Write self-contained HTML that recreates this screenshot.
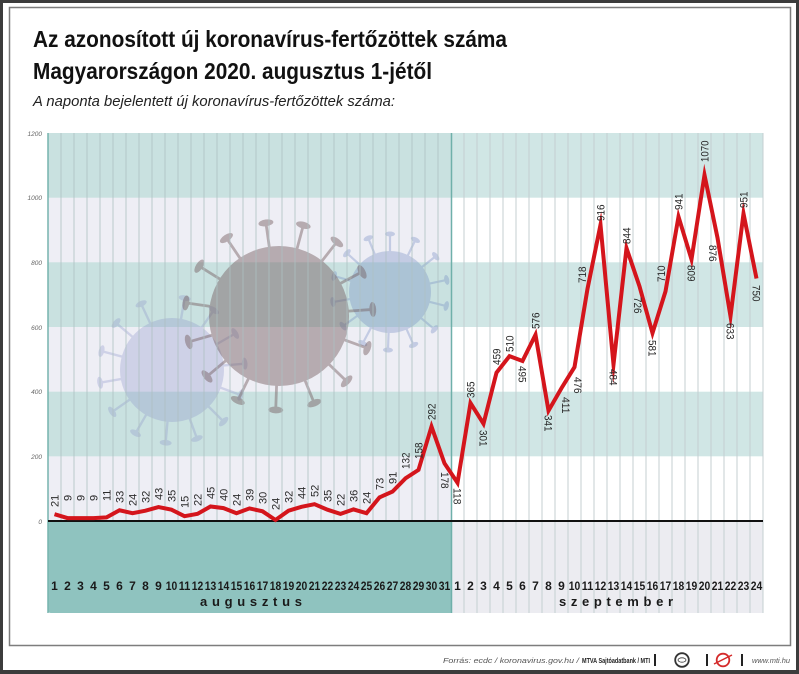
<!DOCTYPE html>
<html><head><meta charset="utf-8"><style>
html,body{margin:0;padding:0;background:#fff;}
svg{display:block;}
text{font-family:"Liberation Sans",sans-serif;}
</style></head><body>
<svg width="799" height="674" viewBox="0 0 799 674" xmlns="http://www.w3.org/2000/svg">
<defs>
<g id="spB"><rect x="-1.4" y="-94" width="2.8" height="30"/><ellipse cx="0" cy="-94" rx="7.5" ry="3.4"/></g>
<g id="spL"><rect x="-1.2" y="-73" width="2.4" height="24"/><ellipse cx="0" cy="-73" rx="6" ry="2.8"/></g>
<g id="spR"><rect x="-1.1" y="-58" width="2.2" height="20"/><ellipse cx="0" cy="-58" rx="5" ry="2.5"/></g>
</defs>
<rect x="0" y="0" width="799" height="674" fill="#3c3c3c"/>
<rect x="3" y="3" width="793" height="667" fill="#ffffff"/>
<rect x="9.5" y="7.5" width="781" height="638" fill="#fff" stroke="#7d7d7d" stroke-width="1.5"/>

<text x="33" y="47" font-size="23" font-weight="bold" fill="#111" textLength="474" lengthAdjust="spacingAndGlyphs">Az azonosított új koronavírus-fertőzöttek száma</text>
<text x="33" y="79" font-size="23" font-weight="bold" fill="#111" textLength="399" lengthAdjust="spacingAndGlyphs">Magyarországon 2020. augusztus 1-jétől</text>
<text x="33" y="106" font-size="15" font-style="italic" fill="#222" textLength="362" lengthAdjust="spacingAndGlyphs">A naponta bejelentett új koronavírus-fertőzöttek száma:</text>

<rect x="48" y="133" width="403" height="388" fill="#eeeef5"/>
<rect x="48" y="133" width="403" height="64.7" fill="#c9e1e0"/>
<rect x="48" y="262.3" width="403" height="64.7" fill="#c9e1e0"/>
<rect x="48" y="391.7" width="403" height="64.6" fill="#c9e1e0"/>
<rect x="451" y="133" width="312" height="388" fill="#ffffff"/>
<rect x="451" y="133" width="312" height="64.7" fill="#d0e6e5"/>
<rect x="451" y="262.3" width="312" height="64.7" fill="#d0e6e5"/>
<rect x="451" y="391.7" width="312" height="64.6" fill="#d0e6e5"/>
<rect x="451" y="521" width="312" height="92" fill="#ececf1"/>

<g opacity="0.36" fill="#7890c4">
<circle cx="390" cy="292" r="41"/>
<g transform="translate(390,292)">
<use href="#spR" transform="rotate(0)"/><use href="#spR" transform="rotate(26)"/><use href="#spR" transform="rotate(52)"/><use href="#spR" transform="rotate(78)"/><use href="#spR" transform="rotate(104)"/><use href="#spR" transform="rotate(130)"/><use href="#spR" transform="rotate(156)"/><use href="#spR" transform="rotate(182)"/><use href="#spR" transform="rotate(208)"/><use href="#spR" transform="rotate(234)"/><use href="#spR" transform="rotate(260)"/><use href="#spR" transform="rotate(286)"/><use href="#spR" transform="rotate(312)"/><use href="#spR" transform="rotate(338)"/>
</g></g>
<g opacity="0.3" fill="#8890c8">
<circle cx="172" cy="370" r="52"/>
<g transform="translate(172,370)">
<use href="#spL" transform="rotate(10)"/><use href="#spL" transform="rotate(35)"/><use href="#spL" transform="rotate(60)"/><use href="#spL" transform="rotate(85)"/><use href="#spL" transform="rotate(110)"/><use href="#spL" transform="rotate(135)"/><use href="#spL" transform="rotate(160)"/><use href="#spL" transform="rotate(185)"/><use href="#spL" transform="rotate(210)"/><use href="#spL" transform="rotate(235)"/><use href="#spL" transform="rotate(260)"/><use href="#spL" transform="rotate(285)"/><use href="#spL" transform="rotate(310)"/><use href="#spL" transform="rotate(335)"/>
</g></g>
<g opacity="0.45" fill="#735c5e">
<circle cx="279" cy="316" r="70"/>
<g transform="translate(279,316)">
<use href="#spB" transform="rotate(-8)"/><use href="#spB" transform="rotate(15)"/><use href="#spB" transform="rotate(38)"/><use href="#spB" transform="rotate(62)"/><use href="#spB" transform="rotate(86)"/><use href="#spB" transform="rotate(110)"/><use href="#spB" transform="rotate(134)"/><use href="#spB" transform="rotate(158)"/><use href="#spB" transform="rotate(182)"/><use href="#spB" transform="rotate(206)"/><use href="#spB" transform="rotate(230)"/><use href="#spB" transform="rotate(254)"/><use href="#spB" transform="rotate(278)"/><use href="#spB" transform="rotate(302)"/><use href="#spB" transform="rotate(326)"/>
</g></g>

<path d="M61 133V521M74 133V521M87 133V521M100 133V521M113 133V521M126 133V521M139 133V521M152 133V521M165 133V521M178 133V521M191 133V521M204 133V521M217 133V521M230 133V521M243 133V521M256 133V521M269 133V521M282 133V521M295 133V521M308 133V521M321 133V521M334 133V521M347 133V521M360 133V521M373 133V521M386 133V521M399 133V521M412 133V521M425 133V521M438 133V521" stroke="#aebfc2" stroke-width="1" opacity="0.8" fill="none"/>
<path d="M464 133V613M477 133V613M490 133V613M503 133V613M516 133V613M529 133V613M542 133V613M555 133V613M568 133V613M581 133V613M594 133V613M607 133V613M620 133V613M633 133V613M646 133V613M659 133V613M672 133V613M685 133V613M698 133V613M711 133V613M724 133V613M737 133V613M750 133V613M763 133V613" stroke="#c4cfd1" stroke-width="1" fill="none"/>

<path d="M48 521H451V613H51Q48 613 48 610Z" fill="#8fc3bf"/>
<line x1="48" y1="133" x2="48" y2="613" stroke="#76b4ae" stroke-width="1.5"/>
<line x1="451.5" y1="133" x2="451.5" y2="613" stroke="#6fb0aa" stroke-width="1.5"/>
<line x1="48" y1="521" x2="763" y2="521" stroke="#111" stroke-width="2"/>

<g font-size="6.5" font-style="italic" fill="#666" text-anchor="end">
<text x="42" y="136">1200</text>
<text x="42" y="200">1000</text>
<text x="42" y="265">800</text>
<text x="42" y="330">600</text>
<text x="42" y="394">400</text>
<text x="42" y="459">200</text>
<text x="42" y="524">0</text>
</g>

<polyline fill="none" stroke="#d4151c" stroke-width="4" stroke-linejoin="miter" stroke-miterlimit="10" points="54.5,514.2 67.5,518.1 80.5,518.1 93.5,518.1 106.5,517.4 119.5,510.3 132.5,513.2 145.5,510.7 158.5,507.1 171.5,509.7 184.5,516.2 197.5,513.9 210.5,506.5 223.5,508.1 236.5,513.2 249.5,508.4 262.5,511.3 275.5,520 288.5,510.7 301.5,506.8 314.5,504.2 327.5,509.7 340.5,513.9 353.5,509.4 366.5,513.2 379.5,497.4 392.5,491.6 405.5,478.3 418.5,469.9 431.5,426.6 444.5,463.4 457.5,482.8 470.5,403 483.5,423.7 496.5,372.6 509.5,356.1 522.5,361 535.5,334.8 548.5,410.7 561.5,388.1 574.5,367.1 587.5,288.8 600.5,224.8 613.5,364.5 626.5,248.1 639.5,286.3 652.5,333.1 665.5,291.4 678.5,216.7 691.5,259.4 704.5,175 717.5,237.8 730.5,316.3 743.5,213.5 756.5,278.5"/>

<g font-size="11" fill="#2a2a2a">
<text transform="translate(58.3,507) rotate(-90)">21</text>
<text transform="translate(71.3,501) rotate(-90)">9</text>
<text transform="translate(84.3,501) rotate(-90)">9</text>
<text transform="translate(97.3,501) rotate(-90)">9</text>
<text transform="translate(110.3,501) rotate(-90)">11</text>
<text transform="translate(123.3,503) rotate(-90)">33</text>
<text transform="translate(136.3,506) rotate(-90)">24</text>
<text transform="translate(149.3,503) rotate(-90)">32</text>
<text transform="translate(162.3,500) rotate(-90)">43</text>
<text transform="translate(175.3,502) rotate(-90)">35</text>
<text transform="translate(188.3,508) rotate(-90)">15</text>
<text transform="translate(201.3,506) rotate(-90)">22</text>
<text transform="translate(214.3,499) rotate(-90)">45</text>
<text transform="translate(227.3,501) rotate(-90)">40</text>
<text transform="translate(240.3,506) rotate(-90)">24</text>
<text transform="translate(253.3,501) rotate(-90)">39</text>
<text transform="translate(266.3,504) rotate(-90)">30</text>
<text transform="translate(279.3,510) rotate(-90)">24</text>
<text transform="translate(292.3,503) rotate(-90)">32</text>
<text transform="translate(305.3,499) rotate(-90)">44</text>
<text transform="translate(318.3,497) rotate(-90)">52</text>
<text transform="translate(331.3,502) rotate(-90)">35</text>
<text transform="translate(344.3,506) rotate(-90)">22</text>
<text transform="translate(357.3,502) rotate(-90)">36</text>
<text transform="translate(370.3,504) rotate(-90)">24</text>
<text transform="translate(383.3,490) rotate(-90)">73</text>
<text transform="translate(396.3,484) rotate(-90)">91</text>
<text transform="translate(409.3,469) rotate(-90)" textLength="16.5" lengthAdjust="spacingAndGlyphs">132</text>
<text transform="translate(422.3,459) rotate(-90)" textLength="16.5" lengthAdjust="spacingAndGlyphs">158</text>
<text transform="translate(435.3,420) rotate(-90)" textLength="16.5" lengthAdjust="spacingAndGlyphs">292</text>
<text transform="translate(474.3,398) rotate(-90)" textLength="16.5" lengthAdjust="spacingAndGlyphs">365</text>
<text transform="translate(500.3,365) rotate(-90)" textLength="16.5" lengthAdjust="spacingAndGlyphs">459</text>
<text transform="translate(513.3,352) rotate(-90)" textLength="16.5" lengthAdjust="spacingAndGlyphs">510</text>
<text transform="translate(539.3,329) rotate(-90)" textLength="16.5" lengthAdjust="spacingAndGlyphs">576</text>
<text transform="translate(585.8,283) rotate(-90)" textLength="16.5" lengthAdjust="spacingAndGlyphs">718</text>
<text transform="translate(604.3,221) rotate(-90)" textLength="16.5" lengthAdjust="spacingAndGlyphs">916</text>
<text transform="translate(630.3,244) rotate(-90)" textLength="16.5" lengthAdjust="spacingAndGlyphs">844</text>
<text transform="translate(664.8,282) rotate(-90)" textLength="16.5" lengthAdjust="spacingAndGlyphs">710</text>
<text transform="translate(682.3,210) rotate(-90)" textLength="16.5" lengthAdjust="spacingAndGlyphs">941</text>
<text transform="translate(708.3,162) rotate(-90)" textLength="21.5" lengthAdjust="spacingAndGlyphs">1070</text>
<text transform="translate(747.3,208) rotate(-90)" textLength="16.5" lengthAdjust="spacingAndGlyphs">951</text>
<text transform="translate(441,472) rotate(90)" textLength="16.5" lengthAdjust="spacingAndGlyphs">178</text>
<text transform="translate(453.7,488) rotate(90)" textLength="16.5" lengthAdjust="spacingAndGlyphs">118</text>
<text transform="translate(479.7,430) rotate(90)" textLength="16.5" lengthAdjust="spacingAndGlyphs">301</text>
<text transform="translate(518.7,366) rotate(90)" textLength="16.5" lengthAdjust="spacingAndGlyphs">495</text>
<text transform="translate(544.7,415) rotate(90)" textLength="16.5" lengthAdjust="spacingAndGlyphs">341</text>
<text transform="translate(562.2,397) rotate(90)" textLength="16.5" lengthAdjust="spacingAndGlyphs">411</text>
<text transform="translate(574.2,377) rotate(90)" textLength="16.5" lengthAdjust="spacingAndGlyphs">476</text>
<text transform="translate(609.7,369) rotate(90)" textLength="16.5" lengthAdjust="spacingAndGlyphs">484</text>
<text transform="translate(634.2,297) rotate(90)" textLength="16.5" lengthAdjust="spacingAndGlyphs">726</text>
<text transform="translate(648.7,340) rotate(90)" textLength="16.5" lengthAdjust="spacingAndGlyphs">581</text>
<text transform="translate(687.7,265) rotate(90)" textLength="16.5" lengthAdjust="spacingAndGlyphs">809</text>
<text transform="translate(709.2,245) rotate(90)" textLength="16.5" lengthAdjust="spacingAndGlyphs">876</text>
<text transform="translate(726.7,323) rotate(90)" textLength="16.5" lengthAdjust="spacingAndGlyphs">633</text>
<text transform="translate(752.7,285) rotate(90)" textLength="16.5" lengthAdjust="spacingAndGlyphs">750</text>
</g>

<g font-size="12" font-weight="bold" fill="#1a1a1a" text-anchor="middle">
<text x="54.5" y="590">1</text><text x="67.5" y="590">2</text><text x="80.5" y="590">3</text><text x="93.5" y="590">4</text><text x="106.5" y="590">5</text><text x="119.5" y="590">6</text><text x="132.5" y="590">7</text><text x="145.5" y="590">8</text><text x="158.5" y="590">9</text>
<text x="171.5" y="590" textLength="11.5" lengthAdjust="spacingAndGlyphs">10</text><text x="184.5" y="590" textLength="11.5" lengthAdjust="spacingAndGlyphs">11</text><text x="197.5" y="590" textLength="11.5" lengthAdjust="spacingAndGlyphs">12</text><text x="210.5" y="590" textLength="11.5" lengthAdjust="spacingAndGlyphs">13</text><text x="223.5" y="590" textLength="11.5" lengthAdjust="spacingAndGlyphs">14</text><text x="236.5" y="590" textLength="11.5" lengthAdjust="spacingAndGlyphs">15</text><text x="249.5" y="590" textLength="11.5" lengthAdjust="spacingAndGlyphs">16</text><text x="262.5" y="590" textLength="11.5" lengthAdjust="spacingAndGlyphs">17</text><text x="275.5" y="590" textLength="11.5" lengthAdjust="spacingAndGlyphs">18</text><text x="288.5" y="590" textLength="11.5" lengthAdjust="spacingAndGlyphs">19</text><text x="301.5" y="590" textLength="11.5" lengthAdjust="spacingAndGlyphs">20</text><text x="314.5" y="590" textLength="11.5" lengthAdjust="spacingAndGlyphs">21</text><text x="327.5" y="590" textLength="11.5" lengthAdjust="spacingAndGlyphs">22</text><text x="340.5" y="590" textLength="11.5" lengthAdjust="spacingAndGlyphs">23</text><text x="353.5" y="590" textLength="11.5" lengthAdjust="spacingAndGlyphs">24</text><text x="366.5" y="590" textLength="11.5" lengthAdjust="spacingAndGlyphs">25</text><text x="379.5" y="590" textLength="11.5" lengthAdjust="spacingAndGlyphs">26</text><text x="392.5" y="590" textLength="11.5" lengthAdjust="spacingAndGlyphs">27</text><text x="405.5" y="590" textLength="11.5" lengthAdjust="spacingAndGlyphs">28</text><text x="418.5" y="590" textLength="11.5" lengthAdjust="spacingAndGlyphs">29</text><text x="431.5" y="590" textLength="11.5" lengthAdjust="spacingAndGlyphs">30</text><text x="444.5" y="590" textLength="11.5" lengthAdjust="spacingAndGlyphs">31</text>
<text x="457.5" y="590">1</text><text x="470.5" y="590">2</text><text x="483.5" y="590">3</text><text x="496.5" y="590">4</text><text x="509.5" y="590">5</text><text x="522.5" y="590">6</text><text x="535.5" y="590">7</text><text x="548.5" y="590">8</text><text x="561.5" y="590">9</text>
<text x="574.5" y="590" textLength="11.5" lengthAdjust="spacingAndGlyphs">10</text><text x="587.5" y="590" textLength="11.5" lengthAdjust="spacingAndGlyphs">11</text><text x="600.5" y="590" textLength="11.5" lengthAdjust="spacingAndGlyphs">12</text><text x="613.5" y="590" textLength="11.5" lengthAdjust="spacingAndGlyphs">13</text><text x="626.5" y="590" textLength="11.5" lengthAdjust="spacingAndGlyphs">14</text><text x="639.5" y="590" textLength="11.5" lengthAdjust="spacingAndGlyphs">15</text><text x="652.5" y="590" textLength="11.5" lengthAdjust="spacingAndGlyphs">16</text><text x="665.5" y="590" textLength="11.5" lengthAdjust="spacingAndGlyphs">17</text><text x="678.5" y="590" textLength="11.5" lengthAdjust="spacingAndGlyphs">18</text><text x="691.5" y="590" textLength="11.5" lengthAdjust="spacingAndGlyphs">19</text><text x="704.5" y="590" textLength="11.5" lengthAdjust="spacingAndGlyphs">20</text><text x="717.5" y="590" textLength="11.5" lengthAdjust="spacingAndGlyphs">21</text><text x="730.5" y="590" textLength="11.5" lengthAdjust="spacingAndGlyphs">22</text><text x="743.5" y="590" textLength="11.5" lengthAdjust="spacingAndGlyphs">23</text><text x="756.5" y="590" textLength="11.5" lengthAdjust="spacingAndGlyphs">24</text>
</g>
<g font-size="13" font-weight="bold" fill="#1a1a1a">
<text x="200" y="606" textLength="102" lengthAdjust="spacing">augusztus</text>
<text x="559" y="606" textLength="114" lengthAdjust="spacing">szeptember</text>
</g>

<text x="443" y="663" font-size="7.5" font-style="italic" fill="#555" textLength="136" lengthAdjust="spacingAndGlyphs">Forrás: ecdc / koronavirus.gov.hu /</text>
<text x="582" y="663" font-size="7.5" font-weight="bold" fill="#222" textLength="68" lengthAdjust="spacingAndGlyphs">MTVA Sajtóadatbank / MTI</text>
<rect x="654" y="654" width="2" height="12" fill="#222"/>
<circle cx="682" cy="660" r="6.8" fill="#fff" stroke="#333" stroke-width="1.8"/>
<ellipse cx="682" cy="660" rx="4" ry="2.2" fill="none" stroke="#333" stroke-width="0.8"/>
<rect x="706" y="654" width="2" height="12" fill="#222"/>
<circle cx="723" cy="660" r="6.3" fill="#fff" stroke="#d42a2a" stroke-width="1.8"/>
<line x1="714" y1="664" x2="732" y2="655" stroke="#d42a2a" stroke-width="1.5"/>
<rect x="741" y="654" width="2" height="12" fill="#222"/>
<text x="752" y="663" font-size="7.5" font-style="italic" fill="#555" textLength="38" lengthAdjust="spacingAndGlyphs">www.mti.hu</text>
</svg>
</body></html>
